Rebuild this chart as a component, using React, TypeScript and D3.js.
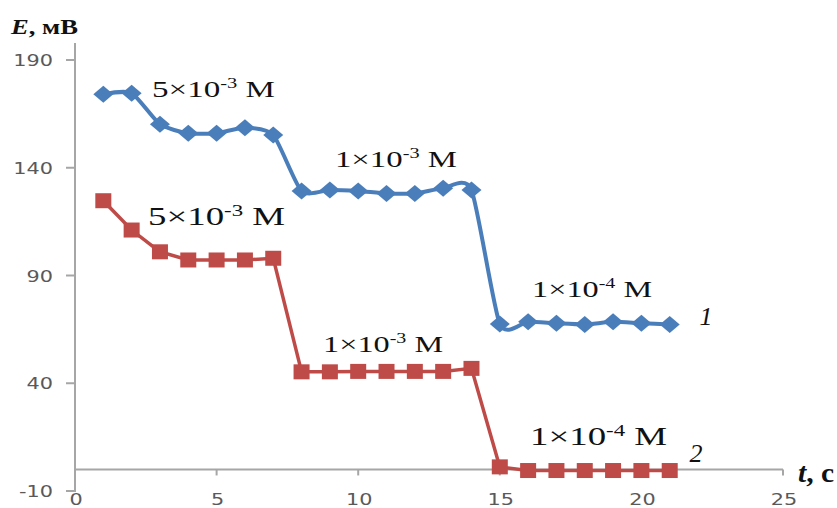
import React from "react";
import * as d3 from "d3";

const times = [1, 2, 3, 4, 5, 6, 7, 8, 9, 10, 11, 12, 13, 14, 15, 16, 17, 18, 19, 20, 21];
const series1 = [174.1, 174.6, 160.2, 156.0, 156.0, 158.6, 155.2, 129.2, 129.7, 129.2, 128.1, 128.1, 130.5, 129.7, 67.5, 68.5, 67.8, 67.3, 68.5, 67.8, 67.3];
const series2 = [124.7, 111.1, 101.0, 97.2, 97.2, 97.2, 98.0, 45.3, 45.3, 45.5, 45.5, 45.5, 45.5, 46.9, 1.2, -0.5, -0.5, -0.5, -0.5, -0.5, -0.5];
const xTicks = [0, 5, 10, 15, 20, 25];
const yTicks = [-10, 40, 90, 140, 190];

// concentration annotations
const annMant = ["5", "1", "1", "5", "1", "1"];
const annExp = ["-3", "-3", "-4", "-3", "-3", "-4"];
const annT = [2.72, 9.18, 16.14, 2.58, 8.76, 16.07];
const annE = [172.8, 140.5, 80.0, 113.4, 54.5, 11.4];
const annLen = [123, 122, 120, 137, 120, 137];
const annSize = [24, 24, 24, 26, 24, 26];

const BLUE = "#4A7EBB";
const RED = "#BE4B48";
const AXIS = "#A6A6A6";
const TICKTXT = "#595959";

export default function App() {
  const W = 837, H = 508;
  const x = d3.scaleLinear().domain([0, 25]).range([75, 783]);
  const y = d3.scaleLinear().domain([-10, 190]).range([491, 60]);

  const line1 = d3.line<number>().x((_, i) => x(times[i])).y((d) => y(d)).curve(d3.curveCardinal.tension(0.35));
  const line2 = d3.line<number>().x((_, i) => x(times[i])).y((d) => y(d));

  const y0 = y(0);

  return (
    <svg width={W} height={H} style={{ position: "absolute", left: 0, top: 0, background: "#fff" }}>
      {/* axes */}
      <line x1={x(0)} x2={x(0)} y1={43} y2={y(-10) + 1} stroke={AXIS} strokeWidth={2} />
      <line x1={x(0)} x2={x(25)} y1={y0} y2={y0} stroke={AXIS} strokeWidth={2} />
      {yTicks.map((t) => (
        <g key={"y" + t}>
          <line x1={x(0) - 9} x2={x(0)} y1={y(t)} y2={y(t)} stroke={AXIS} strokeWidth={2} />
          <text
            transform={`translate(53,${y(t) + 6}) scale(1.3,1)`}
            textAnchor="end"
            fontFamily="DejaVu Sans, Verdana, sans-serif"
            fontSize={16}
            fill={TICKTXT}
          >
            {t}
          </text>
        </g>
      ))}
      {xTicks.map((t) => (
        <g key={"x" + t}>
          {t > 0 && <line x1={x(t)} x2={x(t)} y1={y0} y2={y0 + 6} stroke={AXIS} strokeWidth={2} />}
          <text
            transform={`translate(${x(t) + 1},${505}) scale(1.3,1)`}
            textAnchor="middle"
            fontFamily="DejaVu Sans, Verdana, sans-serif"
            fontSize={16}
            fill={TICKTXT}
          >
            {t}
          </text>
        </g>
      ))}

      {/* axis titles */}
      <text x={11} y={34} textLength={67} lengthAdjust="spacingAndGlyphs" fontFamily="Liberation Serif, Times New Roman, serif" fontWeight="bold" fontSize={22} fill="#111">
        <tspan fontStyle="italic">E</tspan>, мВ
      </text>
      <text x={798} y={482} textLength={36} lengthAdjust="spacingAndGlyphs" fontFamily="Liberation Serif, Times New Roman, serif" fontWeight="bold" fontSize={28} fill="#111">
        <tspan fontStyle="italic">t</tspan>, c
      </text>

      {/* series 2 (red) */}
      <path d={line2(series2) || ""} fill="none" stroke={RED} strokeWidth={3.5} />
      {series2.map((v, i) => (
        <rect key={"s2" + i} x={x(times[i]) - 8} y={y(v) - 7.5} width={16} height={15} fill={RED} />
      ))}

      {/* series 1 (blue) */}
      <path d={line1(series1) || ""} fill="none" stroke={BLUE} strokeWidth={4} />
      {series1.map((v, i) => {
        const cx = x(times[i]);
        const cy = y(v);
        return <path key={"s1" + i} d={`M${cx - 10},${cy}L${cx},${cy - 8.5}L${cx + 10},${cy}L${cx},${cy + 8.5}Z`} fill={BLUE} />;
      })}

      {/* concentration annotations */}
      {annMant.map((m, i) => (
        <text
          key={"a" + i}
          x={x(annT[i])}
          y={y(annE[i])}
          textLength={annLen[i]}
          lengthAdjust="spacingAndGlyphs"
          fontFamily="Liberation Serif, Times New Roman, serif"
          fontSize={annSize[i]}
          fill="#111"
        >
          {m}×10
          <tspan dy={-9} fontSize={annSize[i] * 0.62}>{annExp[i]}</tspan>
          <tspan dy={9}> M</tspan>
        </text>
      ))}

      {/* curve numbers */}
      <text x={x(22.05)} y={y(67)} fontFamily="Liberation Serif, Times New Roman, serif" fontStyle="italic" fontSize={26} fill="#111">1</text>
      <text x={x(21.7)} y={y(3.5)} fontFamily="Liberation Serif, Times New Roman, serif" fontStyle="italic" fontSize={26} fill="#111">2</text>
    </svg>
  );
}
